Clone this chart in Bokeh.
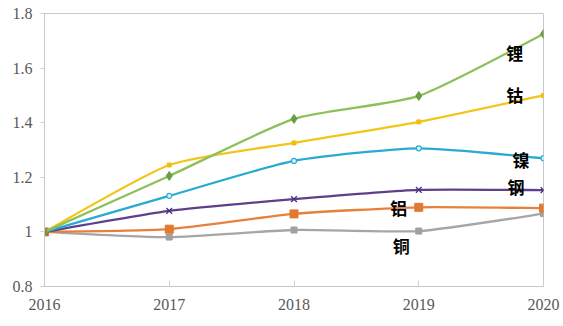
from bokeh.plotting import figure
from bokeh.models import Range1d, FixedTicker
from bokeh.core.properties import value
from bokeh.embed import file_html
from bokeh.resources import INLINE

years = [2016, 2017, 2018, 2019, 2020]
lithium = [1.0, 1.205, 1.414, 1.498, 1.725]
cobalt = [1.0, 1.245, 1.326, 1.403, 1.500]
nickel = [1.0, 1.132, 1.260, 1.306, 1.270]
steel = [1.0, 1.077, 1.120, 1.154, 1.153]
aluminium = [1.0, 1.010, 1.066, 1.090, 1.087]
copper = [1.0, 0.981, 1.007, 1.003, 1.067]

names = ["锂", "钴", "镍", "钢", "铝", "铜"]
label_x = [2019.77, 2019.77, 2019.82, 2019.78, 2018.84, 2018.86]
label_y = [1.656, 1.505, 1.264, 1.168, 1.088, 0.949]

y_ticks = [0.8, 1.0, 1.2, 1.4, 1.6, 1.8]
y_tick_labels = ["0.8", "1", "1.2", "1.4", "1.6", "1.8"]

p = figure(width=563, height=326, output_backend="svg", toolbar_location=None,
           x_range=Range1d(2016, 2020), y_range=Range1d(0.8, 1.8),
           min_border_left=44, min_border_right=20, min_border_top=13, min_border_bottom=40)
p.grid.visible = False
p.outline_line_color = "#c8c8c8"
p.outline_line_width = 1
p.background_fill_color = "white"
p.border_fill_color = "white"

tick_font = "Liberation Serif"
p.xaxis.ticker = FixedTicker(ticks=years)
p.yaxis.ticker = FixedTicker(ticks=y_ticks)
p.yaxis.major_label_overrides = {t: l for t, l in zip(y_ticks, y_tick_labels)}
for ax in (p.xaxis[0], p.yaxis[0]):
    ax.axis_line_color = "#c8c8c8"
    ax.major_tick_line_color = "#d0d0d0"
    ax.minor_tick_line_color = None
    ax.major_label_text_font = tick_font
    ax.major_label_text_font_size = "16px"
    ax.major_label_text_color = "#595959"
p.xaxis.major_tick_in = 6
p.xaxis.major_tick_out = 0
p.xaxis.major_label_standoff = 12
p.yaxis.major_tick_in = 0
p.yaxis.major_tick_out = 4
p.yaxis.major_label_standoff = 8


def smooth(xs, ys, k=10.0):
    n = len(xs)
    seg = dict(x0=[], y0=[], x1=[], y1=[], cx0=[], cy0=[], cx1=[], cy1=[])
    for i in range(n - 1):
        xm, ym = (xs[i - 1], ys[i - 1]) if i > 0 else (xs[i], ys[i])
        xp, yp = (xs[i + 2], ys[i + 2]) if i + 2 < n else (xs[i + 1], ys[i + 1])
        seg["x0"].append(xs[i]); seg["y0"].append(ys[i])
        seg["x1"].append(xs[i + 1]); seg["y1"].append(ys[i + 1])
        seg["cx0"].append(xs[i] + (xs[i + 1] - xm) / k)
        seg["cy0"].append(ys[i] + (ys[i + 1] - ym) / k)
        seg["cx1"].append(xs[i + 1] - (xp - xs[i]) / k)
        seg["cy1"].append(ys[i + 1] - (yp - ys[i]) / k)
    return seg

series = [
    (copper, "#a6a6a6", "square", 6, "#a0a0a0"),
    (aluminium, "#e6813c", "square", 8, "#e07a32"),
    (steel, "#5e3f8c", "x", 8, "#4a3080"),
    (nickel, "#2aaad0", "circle", 5, "#2aaad0"),
    (cobalt, "#f3c51a", "square", 4, "#f0be10"),
    (lithium, "#8dc05a", "diamond", 9, "#6a9e45"),
]

for ys, color, marker, size, mcolor in series:
    s = smooth(years, ys)
    p.bezier(x0=s["x0"], y0=s["y0"], x1=s["x1"], y1=s["y1"],
             cx0=s["cx0"], cy0=s["cy0"], cx1=s["cx1"], cy1=s["cy1"],
             line_color=color, line_width=2.3)
    if marker == "circle":
        p.scatter(years, ys, marker=marker, size=size, line_color=mcolor,
                  fill_color="#dff3fa", line_width=1.2)
    elif marker == "x":
        p.scatter(years, ys, marker=marker, size=size, line_color=mcolor, line_width=1.3)
    else:
        p.scatter(years, ys, marker=marker, size=size, line_color=mcolor, fill_color=mcolor)

p.text(x=label_x, y=label_y, text=names, text_font=value("Noto Sans CJK SC"),
       text_font_style="bold", text_font_size="17px", text_color="black",
       text_align="center", text_baseline="middle")

open("out.html", "w").write(file_html(p, INLINE))
